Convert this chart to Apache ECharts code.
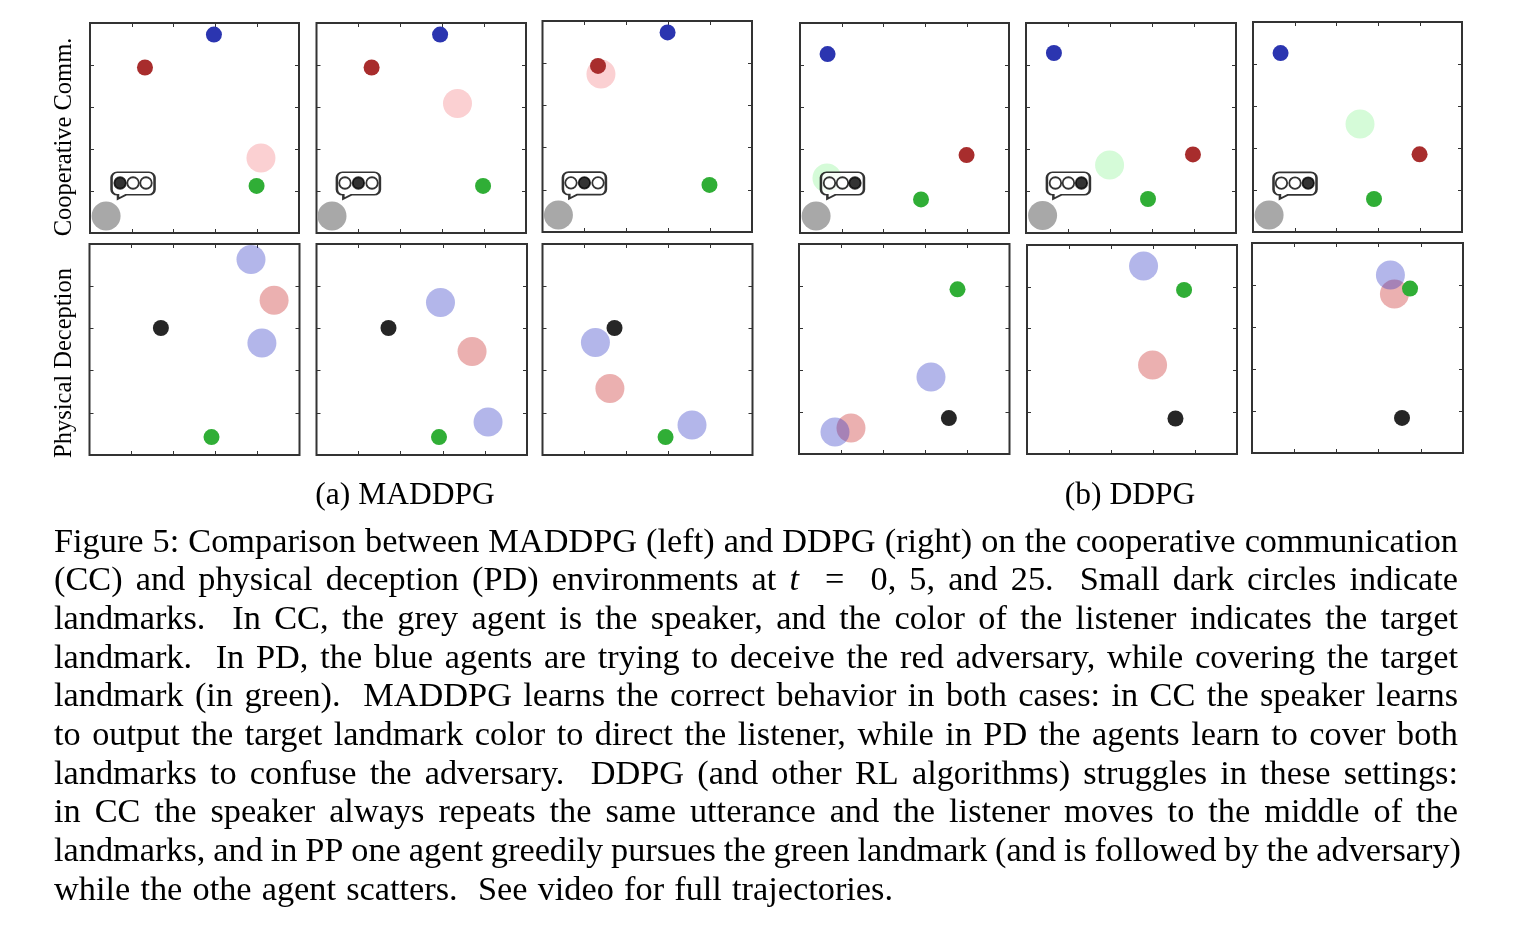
<!DOCTYPE html>
<html>
<head>
<meta charset="utf-8">
<title>Figure 5</title>
<script src="https://cdn.jsdelivr.net/npm/echarts@6/dist/echarts.min.js"></script>
<style>
    html, body { margin: 0; padding: 0; background: #fff; }
    #chart { width: 1522px; height: 926px; }
</style>
</head>
<body>
<div id="chart"></div>
<script>
// cooperative communication row, one entry per panel, axes run 0-100
const ccBlue = [[59.3, 94.5], [59.0, 94.5], [59.7, 94.6], [13.2, 85.2], [13.3, 85.7], [13.2, 85.2]]
const ccRed = [[26.3, 78.8], [26.3, 78.8], [26.5, 78.7], [79.7, 37.1], [79.5, 37.4], [79.7, 37.0]]
const ccGreen = [[79.7, 22.4], [79.5, 22.4], [79.7, 22.3], [57.9, 16.0], [58.1, 16.2], [57.9, 15.7]]
const ccListener = [[81.8, 35.7], [67.3, 61.7], [27.9, 74.9], [12.9, 26.2], [39.8, 32.4], [51.2, 51.4]]
const ccSpeaker = [[7.7, 8.1], [7.4, 8.1], [7.6, 8.1], [7.7, 8.1], [7.9, 8.3], [7.7, 8.1]]
const ccBubble = [[20.6, 22.6], [20.0, 22.6], [20.0, 22.1], [20.3, 22.6], [20.2, 22.6], [20.1, 22.1]]
const ccDotX = [[14.4, 20.6, 26.8], [13.6, 20.0, 26.5], [13.6, 20.0, 26.5], [14.1, 20.3, 26.3], [14.0, 20.2, 26.4], [13.6, 20.1, 26.4]]
const ccDotY = [23.8, 23.8, 23.3, 23.8, 23.8, 23.3]
const ccUtterance = [0, 1, 1, 2, 2, 2]

// physical deception row
const pdLandmarkDark = [[34.0, 60.2], [34.2, 60.2], [34.3, 60.2], [71.2, 17.1], [70.7, 17.0], [71.1, 16.7]]
const pdLandmarkGreen = [[58.1, 8.5], [58.2, 8.5], [58.6, 8.5], [75.3, 78.4], [74.8, 78.5], [74.9, 78.3]]
const pdBlueA = [[76.9, 92.7], [58.9, 72.3], [25.2, 53.3], [62.7, 36.7], [55.5, 90.0], [65.6, 84.8]]
const pdBlueB = [[82.1, 53.1], [81.5, 15.6], [71.2, 14.2], [17.1, 10.5], null, null]
const pdRed = [[87.9, 73.3], [73.9, 49.1], [32.1, 31.5], [24.7, 12.4], [59.8, 42.6], [67.5, 75.7]]

const rowLabels = ['Cooperative Comm.', 'Physical Deception']
const subCaptions = ['(a) MADDPG', '(b) DDPG']
const tickValues = [20, 40, 60, 80]
const captionLines = [
    'Figure 5: Comparison between MADDPG (left) and DDPG (right) on the cooperative communication',
    '(CC) and physical deception (PD) environments at t  =  0, 5, and 25.  Small dark circles indicate',
    'landmarks.  In CC, the grey agent is the speaker, and the color of the listener indicates the target',
    'landmark.  In PD, the blue agents are trying to deceive the red adversary, while covering the target',
    'landmark (in green).  MADDPG learns the correct behavior in both cases: in CC the speaker learns',
    'to output the target landmark color to direct the listener, while in PD the agents learn to cover both',
    'landmarks to confuse the adversary.  DDPG (and other RL algorithms) struggles in these settings:',
    'in CC the speaker always repeats the same utterance and the listener moves to the middle of the',
    'landmarks, and in PP one agent greedily pursues the green landmark (and is followed by the adversary)',
    'while the othe agent scatters.  See video for full trajectories.',
]

// layout, in pixels
const ccBoxes = [[90, 23, 209, 210], [316.5, 23, 209.5, 210], [542.5, 21, 209.5, 211], [800, 23, 209, 210], [1026, 23, 210, 210], [1253, 22, 209, 210]]
const pdBoxes = [[89.5, 244, 210, 211], [316.5, 244, 210.5, 211], [542.5, 244, 210, 211], [799, 244, 210.5, 210], [1027, 245, 210, 209], [1252, 243, 211, 210]]
const captionEnds = [1458, 1458, 1458, 1458, 1458, 1458, 1458, 1458, 1461, 893]
const SERIF = '"Liberation Serif", "Times New Roman", serif'
const CAPTION_SIZE = 34.3
const BUBBLE_PATH = 'path://M8 0H52A8 8 0 0 1 60 8V26A8 8 0 0 1 52 34H20L9 40V34H8A8 8 0 0 1 0 26V8A8 8 0 0 1 8 0Z'

const chart = echarts.init(document.getElementById('chart'), null, { renderer: 'canvas' })
const grid = [], xAxis = [], yAxis = [], series = []

const scatter = (panel, data, size, color, opacity, z) => ({
    type: 'scatter',
    xAxisIndex: panel * 2,
    yAxisIndex: panel * 2,
    data,
    symbol: 'circle',
    symbolSize: size,
    silent: true,
    animation: false,
    clip: false,
    z,
    itemStyle: { color, opacity },
})

const addPanel = ([left, top, width, height]) => {
    grid.push({ left, top, width, height, show: true, borderColor: '#333', borderWidth: 2, backgroundColor: '#fff' })
    const gridIndex = grid.length - 1
    const axis = position => ({
        type: 'value',
        gridIndex,
        position,
        min: 0,
        max: 100,
        interval: 20,
        axisLine: { show: false, onZero: false },
        axisLabel: { show: false },
        splitLine: { show: false },
        axisTick: { show: true, inside: true, length: 4, customValues: tickValues, lineStyle: { color: '#333', width: 1 } },
    })
    xAxis.push(axis('bottom'), axis('top'))
    yAxis.push(axis('left'), axis('right'))
    return gridIndex
}

ccBoxes.forEach((box, i) => {
    const panel = addPanel(box)
    series.push(scatter(panel, [ccListener[i]], 29, i < 3 ? '#fbd0d2' : '#d5fbd8', 1, 2))
    series.push(scatter(panel, [ccSpeaker[i]], 29, '#a8a8a8', 1, 3))
    series.push(scatter(panel, [ccBlue[i]], 16, '#2b35b0', 1, 4))
    series.push(scatter(panel, [ccRed[i]], 16, '#a82d2d', 1, 4))
    series.push(scatter(panel, [ccGreen[i]], 16, '#30ae36', 1, 4))
    // speech bubble with the three symbols of the utterance
    const bubble = scatter(panel, [ccBubble[i]], [43, 26.5], '#fff', 1, 5)
    bubble.symbol = BUBBLE_PATH
    bubble.itemStyle = { color: '#fff', borderColor: '#000', borderWidth: 2 }
    series.push(bubble)
    ccDotX[i].forEach((x, k) => {
        const on = k === ccUtterance[i]
        const dot = scatter(panel, [[x, ccDotY[i]]], 11.5, on ? '#000' : '#fff', 1, 6)
        dot.itemStyle = { color: on ? '#000' : '#fff', borderColor: '#000', borderWidth: 1.8 }
        series.push(dot)
    })
})

pdBoxes.forEach((box, i) => {
    const panel = addPanel(box)
    series.push(scatter(panel, [pdRed[i]], 29, 'rgb(198,29,29)', 0.35, 2))
    series.push(scatter(panel, [pdBlueA[i]], 29, 'rgb(38,47,195)', 0.35, 3))
    if (pdBlueB[i]) {
        series.push(scatter(panel, [pdBlueB[i]], 29, 'rgb(38,47,195)', 0.35, 3))
    }
    series.push(scatter(panel, [pdLandmarkDark[i]], 16, '#262626', 1, 4))
    series.push(scatter(panel, [pdLandmarkGreen[i]], 16, '#30ae36', 1, 4))
})

// caption is justified word by word, canvas text has no word spacing
const measure = document.createElement('canvas').getContext('2d')
const graphic = []
const addText = (text, x, y, fontSize, extra) => {
    graphic.push({
        type: 'text',
        x,
        y,
        silent: true,
        ...extra,
        style: {
            text,
            fill: '#000',
            fontFamily: SERIF,
            fontSize,
            textAlign: 'left',
            textVerticalAlign: 'middle',
            ...(extra && extra.style),
        },
    })
}

captionLines.forEach((line, i) => {
    const tokens = line.split(' ')
    const words = tokens.filter(t => t.length > 0)
    const fontOf = w => (w === 't' ? 'italic ' : '') + CAPTION_SIZE + 'px ' + SERIF
    const widthOf = w => {
        measure.font = fontOf(w)
        return measure.measureText(w).width
    }
    const total = words.reduce((sum, w) => sum + widthOf(w), 0)
    const gap = (captionEnds[i] - 54 - total) / (tokens.length - 1)
    const y = 542.5 + i * 38.67
    let x = 54
    tokens.forEach(t => {
        if (t.length > 0) {
            addText(t, x, y, CAPTION_SIZE, t === 't' ? { style: { fontStyle: 'italic' } } : undefined)
            x += widthOf(t)
        }
        x += gap
    })
})

addText(rowLabels[0], 65, 137, 24.5, { rotation: Math.PI / 2, style: { textAlign: 'center' } })
addText(rowLabels[1], 65, 363, 24.5, { rotation: Math.PI / 2, style: { textAlign: 'center' } })
addText(subCaptions[0], 405, 496, 31.5, { style: { textAlign: 'center' } })
addText(subCaptions[1], 1130, 496, 31.5, { style: { textAlign: 'center' } })

chart.setOption({
    animation: false,
    backgroundColor: '#fff',
    tooltip: { show: false },
    grid,
    xAxis,
    yAxis,
    series,
    graphic,
})
</script>
</body>
</html>
